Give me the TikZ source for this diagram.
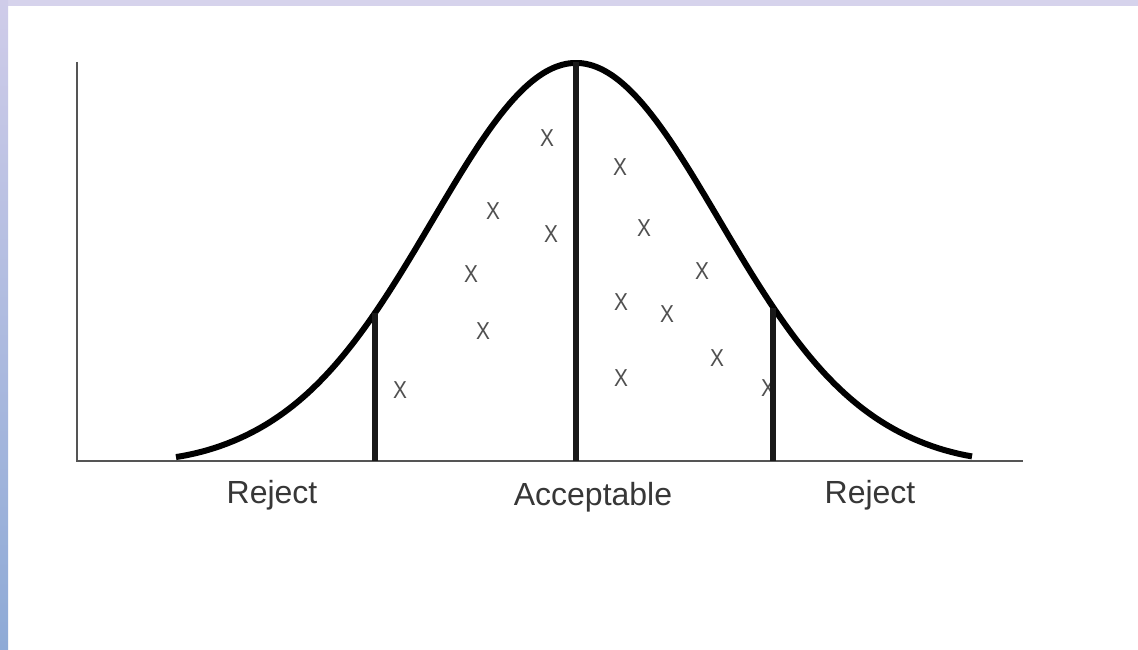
\documentclass[tikz,border=0pt]{standalone}
\usepackage{fontspec}
\setmainfont{Liberation Sans}
\definecolor{bandtop}{RGB}{214,211,236}
\definecolor{sidetop}{RGB}{207,204,233}
\definecolor{sidebot}{RGB}{142,170,214}
\definecolor{axisgray}{RGB}{85,85,85}
\definecolor{markgray}{RGB}{80,80,80}
\definecolor{labelgray}{RGB}{55,55,55}
\tikzset{
  axisline/.style={draw=axisgray, line width=2.4pt},
  bellcurve/.style={draw=black, line width=6pt, line join=round},
  divider/.style={draw=black!90, line width=5.5pt},
  xmark/.style={inner sep=0pt, text=markgray, font=\fontsize{24.5}{28}\selectfont},
  zonelabel/.style={inner sep=0pt, anchor=base, text=labelgray, font=\fontsize{32}{38}\selectfont}
}
\begin{document}
\begin{tikzpicture}[x=1pt,y=-1pt]
\useasboundingbox (0,0) rectangle (1138,650);
\fill[white] (0,0) rectangle (1138,650);
% frame bands
\fill[bandtop] (0,0) rectangle (1138,6);
\shade[top color=sidetop, bottom color=sidebot] (0,0) rectangle (8,650);
% axes
\coordinate (ytop) at (77,62);
\coordinate (origin) at (77,461);
\coordinate (xend) at (1023,461);
\draw[axisline] (ytop) -- (origin) -- (xend);
% bell curve (tails pulled slightly flatter towards the axis)
\draw[bellcurve] plot[domain=176:972, samples=240, smooth]
  (\x, {461-398*exp(-(((\x-576)/100)^2)/4.0898) + 4*exp(-((((\x-576)/100)^2-16)^2)/40)});
% dividers
\coordinate (ltop) at (375,312.8);
\coordinate (lbot) at (375,461);
\coordinate (mtop) at (576,62);
\coordinate (mbot) at (576,461);
\coordinate (rtop) at (773,307.5);
\coordinate (rbot) at (773,461);
\draw[divider] (ltop) -- (lbot);
\draw[divider] (mtop) -- (mbot);
% marks
\node[xmark] (m1) at (547,138) {\scalebox{0.85}[1]{X}};
\node[xmark] (m2) at (620,167) {\scalebox{0.85}[1]{X}};
\node[xmark] (m3) at (493,211) {\scalebox{0.85}[1]{X}};
\node[xmark] (m4) at (551,234) {\scalebox{0.85}[1]{X}};
\node[xmark] (m5) at (644,228) {\scalebox{0.85}[1]{X}};
\node[xmark] (m6) at (471,274) {\scalebox{0.85}[1]{X}};
\node[xmark] (m7) at (702,271) {\scalebox{0.85}[1]{X}};
\node[xmark] (m8) at (621,302) {\scalebox{0.85}[1]{X}};
\node[xmark] (m9) at (667,314) {\scalebox{0.85}[1]{X}};
\node[xmark] (m10) at (483,331) {\scalebox{0.85}[1]{X}};
\node[xmark] (m11) at (717,358) {\scalebox{0.85}[1]{X}};
\node[xmark] (m12) at (400,390) {\scalebox{0.85}[1]{X}};
\node[xmark] (m13) at (621,378) {\scalebox{0.85}[1]{X}};
\node[xmark] (m14) at (768,388) {\scalebox{0.85}[1]{X}};
\draw[divider] (rtop) -- (rbot);
% labels
\node[zonelabel] (rejl) at (272,503) {Reject};
\node[zonelabel] (acc) at (593,505) {Acceptable};
\node[zonelabel] (rejr) at (870,503) {Reject};
\end{tikzpicture}
\end{document}
